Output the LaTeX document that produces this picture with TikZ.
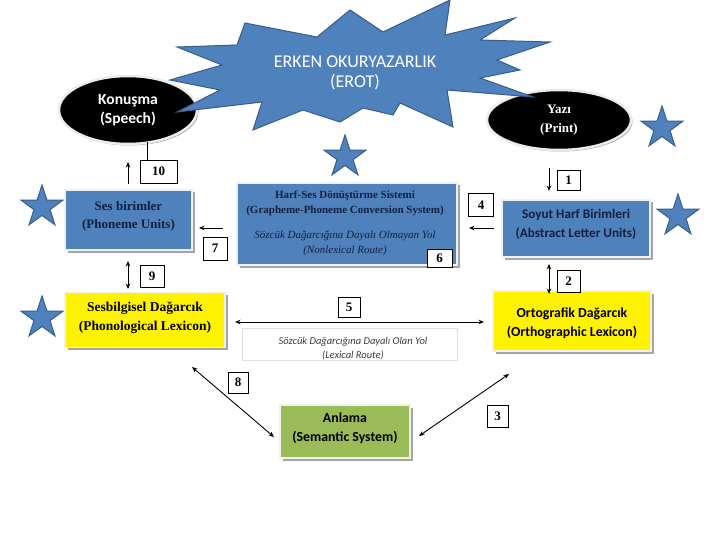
\documentclass[tikz,border=0pt]{standalone}
\usepackage{fontspec}
\setmainfont{Liberation Serif}
\newfontfamily\calib{Carlito}
\usetikzlibrary{shapes.geometric,shadows,arrows.meta}
\definecolor{accblue}{RGB}{79,129,189}
\definecolor{accblueD}{RGB}{56,93,138}
\definecolor{navytxt}{RGB}{20,32,62}
\definecolor{accgreen}{RGB}{155,187,89}
\definecolor{shadowgray}{RGB}{165,165,165}
\definecolor{lexgray}{RGB}{60,60,60}
\tikzset{
  boxbase/.style={draw=white!88!gray, line width=1.2pt, inner sep=0pt, align=center,
    drop shadow={shadow xshift=2.5pt, shadow yshift=-2.5pt, fill=shadowgray, opacity=1}},
  bluebox/.style={boxbase, fill=accblue},
  yellowbox/.style={boxbase, fill=yellow},
  greenbox/.style={boxbase, fill=accgreen},
  boxtxt/.style={align=center, inner sep=0pt},
  numbox/.style={draw=black, fill=white, line width=0.8pt, inner sep=0pt,
    font=\fontsize{13}{14}\selectfont\bfseries},
  ovalnode/.style={ellipse, fill=black, draw=white!85!gray, line width=2.5pt, inner sep=0pt,
    align=center, text=white,
    drop shadow={shadow xshift=1.5pt, shadow yshift=-1.5pt, fill=shadowgray, opacity=1}},
  starnode/.style={star, star points=5, star point ratio=2.6, fill=accblue, draw=accblueD,
    line width=1pt, minimum size=44pt, inner sep=0pt},
  burst/.style={fill=accblue, draw=accblueD, line width=1pt, line join=miter},
  arr/.style={line width=0.9pt, -{Stealth[length=5.5pt,width=4.5pt]}},
  darr/.style={line width=0.9pt, {Stealth[length=5.5pt,width=4.5pt]}-{Stealth[length=5.5pt,width=4.5pt]}},
}
\begin{document}
\begin{tikzpicture}[x=1pt,y=-1pt]
\useasboundingbox (0,0) rectangle (720,540);
\fill[white] (0,0) rectangle (720,540);

% ovals
\node[ovalnode, minimum width=138pt, minimum height=68pt, font=\calib\fontsize{15.5}{18.5}\selectfont\bfseries] (konusma) at (128,110) {Konuşma\\(Speech)};
\node[ovalnode, minimum width=144pt, minimum height=60pt, font=\fontsize{13}{19}\selectfont\bfseries] (yazi) at (559,120) {Yazı\\(Print)};

% burst
\draw[burst] (245,23) -- (317,37) -- (350,10) -- (383,32) -- (450,0) -- (445,35)
  -- (515,18) -- (480,40) -- (550,42) -- (497,60) -- (520,70) -- (480,78)
  -- (533,97) -- (447,90) -- (453,127) -- (400,103) -- (393,115) -- (363,108)
  -- (340,122) -- (303,110) -- (253,130) -- (262,102) -- (177,112) -- (220,90)
  -- (170,80) -- (222,65) -- (177,47) -- (237,45) -- cycle;
\node[text=white, boxtxt, font=\calib\fontsize{18}{20}\selectfont] (title) at (355,73) {ERKEN OKURYAZARLIK\\(EROT)};

% stars
\node[starnode] (s1) at (345,157) {};
\node[starnode] (s2) at (42,207) {};
\node[starnode] (s3) at (662,128) {};
\node[starnode] (s4) at (678,216) {};
\node[starnode] (s5) at (42,318) {};

% boxes
\node[bluebox, minimum width=127pt, minimum height=60pt] (ses) at (128.5,220) {};
\node[boxtxt, text=navytxt, font=\fontsize{13}{18}\selectfont\bfseries] (sestxt) at (128.5,216) {Ses birimler\\(Phoneme Units)};

\node[bluebox, minimum width=220pt, minimum height=82pt] (harf) at (347,224) {};
\node[boxtxt, text=navytxt, font=\fontsize{11}{15}\selectfont] (harftxt) at (345,223)
  {\textbf{Harf-Ses Dönüştürme Sistemi}\\\textbf{(Grapheme-Phoneme Conversion System)}\\[10pt]
   \textit{Sözcük Dağarcığına Dayalı Olmayan Yol}\\\textit{(Nonlexical Route)}};

\node[bluebox, minimum width=148pt, minimum height=57pt] (soyut) at (576,228.5) {};
\node[boxtxt, text=navytxt, font=\calib\fontsize{13.2}{19}\selectfont\bfseries] (soyuttxt) at (576,224.5) {Soyut Harf Birimleri\\(Abstract Letter Units)};

\node[yellowbox, minimum width=160pt, minimum height=55pt] (sesb) at (145,320) {};
\node[boxtxt, font=\fontsize{13.5}{19}\selectfont\bfseries] (sesbtxt) at (145,317.5) {Sesbilgisel Dağarcık\\(Phonological Lexicon)};

\node[yellowbox, minimum width=158pt, minimum height=60pt] (orto) at (572,321) {};
\node[boxtxt, font=\calib\fontsize{13.8}{19}\selectfont\bfseries] (ortotxt) at (572,323) {Ortografik Dağarcık\\(Orthographic Lexicon)};

\node[draw=gray!25, fill=white, line width=0.8pt, minimum width=215pt, minimum height=32pt] (lex) at (349.5,344) {};
\node[boxtxt, text=lexgray, font=\calib\fontsize{10.5}{14}\selectfont\itshape] (lextxt) at (353,349) {Sözcük Dağarcığına Dayalı Olan Yol\\(Lexical Route)};

\node[greenbox, minimum width=130pt, minimum height=53pt] (anlama) at (345,431.5) {};
\node[boxtxt, font=\calib\fontsize{13.8}{19}\selectfont\bfseries] (anlamatxt) at (345,428.5) {Anlama\\(Semantic System)};

% number boxes
\node[numbox, minimum width=37pt, minimum height=23pt] (n10) at (158.5,171.5) {10};
\node[numbox, minimum width=24pt, minimum height=23pt] (n7) at (215,248.5) {7};
\node[numbox, minimum width=24pt, minimum height=22pt] (n9) at (152,276) {9};
\node[numbox, minimum width=25pt, minimum height=23pt] (n4) at (481,205) {4};
\node[numbox, minimum width=23pt, minimum height=20pt] (n1) at (568.5,180) {1};
\node[numbox, minimum width=23pt, minimum height=22pt] (n2) at (568.5,281) {2};
\node[numbox, minimum width=22pt, minimum height=20pt] (n5) at (349,307) {5};
\node[numbox, minimum width=25pt, minimum height=18pt] (n6) at (439.5,258.5) {6};
\node[numbox, minimum width=20pt, minimum height=21pt] (n8) at (238,382.5) {8};
\node[numbox, minimum width=21pt, minimum height=22pt] (n3) at (497.5,416) {3};

% connectors
\coordinate (k10) at (147,142);
\draw[line width=0.8pt] (k10) -- (k10 |- n10.north);
\coordinate (a10s) at (128,184); \coordinate (a10e) at (128,162);
\draw[arr] (a10s) -- (a10e);
\coordinate (a7s) at (223,228); \coordinate (a7e) at (199,228);
\draw[arr] (a7s) -- (a7e);
\coordinate (a9s) at (128,261); \coordinate (a9e) at (128,289);
\draw[darr] (a9s) -- (a9e);
\coordinate (a4s) at (494,228); \coordinate (a4e) at (469,228);
\draw[arr] (a4s) -- (a4e);
\coordinate (a1s) at (549,168); \coordinate (a1e) at (549,191);
\draw[arr] (a1s) -- (a1e);
\coordinate (a2s) at (549,264); \coordinate (a2e) at (549,294);
\draw[darr] (a2s) -- (a2e);
\coordinate (a5s) at (235,322); \coordinate (a5e) at (484,322);
\draw[darr] (a5s) -- (a5e);
\coordinate (a8s) at (192,367); \coordinate (a8e) at (274,437);
\draw[darr] (a8s) -- (a8e);
\coordinate (a3s) at (509,374); \coordinate (a3e) at (419,436);
\draw[darr] (a3s) -- (a3e);
\end{tikzpicture}
\end{document}
